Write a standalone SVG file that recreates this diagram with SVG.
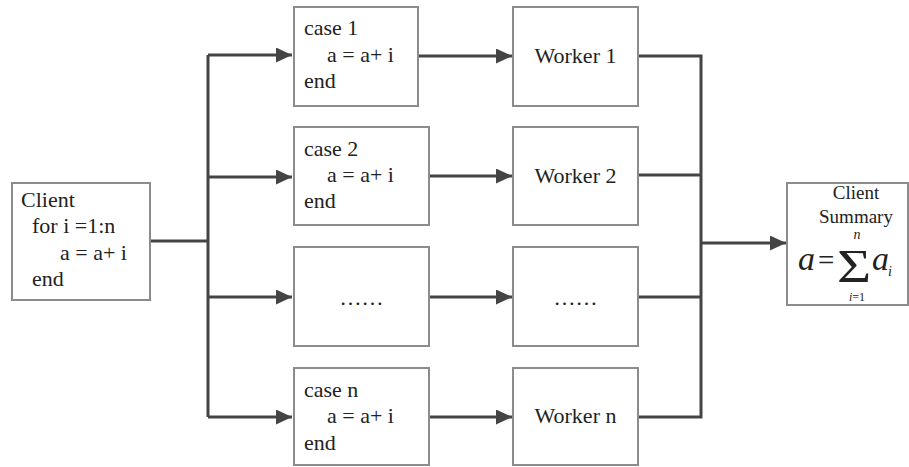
<svg xmlns="http://www.w3.org/2000/svg" width="909" height="467" viewBox="0 0 909 467">
<style>
.box{fill:#fff;stroke:#8c8c8c;stroke-width:2}
text{font-family:"Liberation Serif","Times New Roman",Tinos,serif;fill:#222}
.t{font-size:22px}
.s{font-size:19px}
.c{fill:none;stroke:#444;stroke-width:3}
</style>
<defs>
<marker id="ah" markerUnits="userSpaceOnUse" markerWidth="16" markerHeight="16" refX="16" refY="7.5" orient="auto">
<path d="M0,0 L16,7.5 L0,15 z" fill="#444"/>
</marker>
</defs>
<rect width="909" height="467" fill="#fff"/>
<g id="connectors">
<path class="c" d="M150,241 H208"/>
<path class="c" d="M208,55 V417"/>
<path class="c" d="M208,55 H292" marker-end="url(#ah)"/>
<path class="c" d="M208,177 H292" marker-end="url(#ah)"/>
<path class="c" d="M208,297 H292" marker-end="url(#ah)"/>
<path class="c" d="M208,417 H292" marker-end="url(#ah)"/>
<path class="c" d="M418,56 H512" marker-end="url(#ah)"/>
<path class="c" d="M429,176 H512" marker-end="url(#ah)"/>
<path class="c" d="M429,297 H512" marker-end="url(#ah)"/>
<path class="c" d="M429,417 H512" marker-end="url(#ah)"/>
<path class="c" d="M638,56 H701 V417 H638"/>
<path class="c" d="M638,175 H701"/>
<path class="c" d="M638,297 H701"/>
<path class="c" d="M701,243 H786" marker-end="url(#ah)"/>
</g>
<g id="client">
<rect class="box" x="12" y="183" width="138" height="117"/>
<text class="t" x="21" y="207">Client</text>
<text class="t" x="32" y="233">for i =1:n</text>
<text class="t" x="60" y="260">a = a+ i</text>
<text class="t" x="32" y="286">end</text>
</g>
<g id="case1">
<rect class="box" x="294" y="7" width="124" height="99"/>
<text class="t" x="304" y="35">case 1</text>
<text class="t" x="327" y="62">a = a+ i</text>
<text class="t" x="304" y="88">end</text>
</g>
<g id="case2">
<rect class="box" x="294" y="127" width="135" height="98"/>
<text class="t" x="304" y="156">case 2</text>
<text class="t" x="327" y="182">a = a+ i</text>
<text class="t" x="304" y="208">end</text>
</g>
<g id="case3">
<rect class="box" x="294" y="247" width="135" height="99"/>
<text class="t" x="361.5" y="305" text-anchor="middle">……</text>
</g>
<g id="casen">
<rect class="box" x="294" y="368" width="135" height="97"/>
<text class="t" x="304" y="397">case n</text>
<text class="t" x="327" y="423">a = a+ i</text>
<text class="t" x="304" y="450">end</text>
</g>
<g id="worker1">
<rect class="box" x="513" y="7" width="125" height="99"/>
<text class="t" x="575.5" y="63" text-anchor="middle">Worker 1</text>
</g>
<g id="worker2">
<rect class="box" x="513" y="127" width="125" height="98"/>
<text class="t" x="575.5" y="183" text-anchor="middle">Worker 2</text>
</g>
<g id="worker3">
<rect class="box" x="513" y="247" width="125" height="99"/>
<text class="t" x="575.5" y="305" text-anchor="middle">……</text>
</g>
<g id="workern">
<rect class="box" x="513" y="368" width="125" height="97"/>
<text class="t" x="575.5" y="423" text-anchor="middle">Worker n</text>
</g>
<g id="summary">
<rect class="box" x="787" y="183" width="121" height="122"/>
<text class="s" x="856" y="199" text-anchor="middle">Client</text>
<text class="s" x="856" y="223" text-anchor="middle">Summary</text>
<text x="798" y="270" font-size="34" font-style="italic">a</text>
<text x="818" y="270" font-size="29">=</text>
<text transform="translate(854,282) scale(1.25,1)" font-size="47" text-anchor="middle">Σ</text>
<text x="857" y="239" font-size="14" font-style="italic" text-anchor="middle">n</text>
<text x="857" y="301" font-size="12" text-anchor="middle"><tspan font-style="italic">i</tspan>=1</text>
<text x="872" y="270" font-size="34" font-style="italic">a</text>
<text x="888" y="276" font-size="14" font-style="italic">i</text>
</g>
</svg>
